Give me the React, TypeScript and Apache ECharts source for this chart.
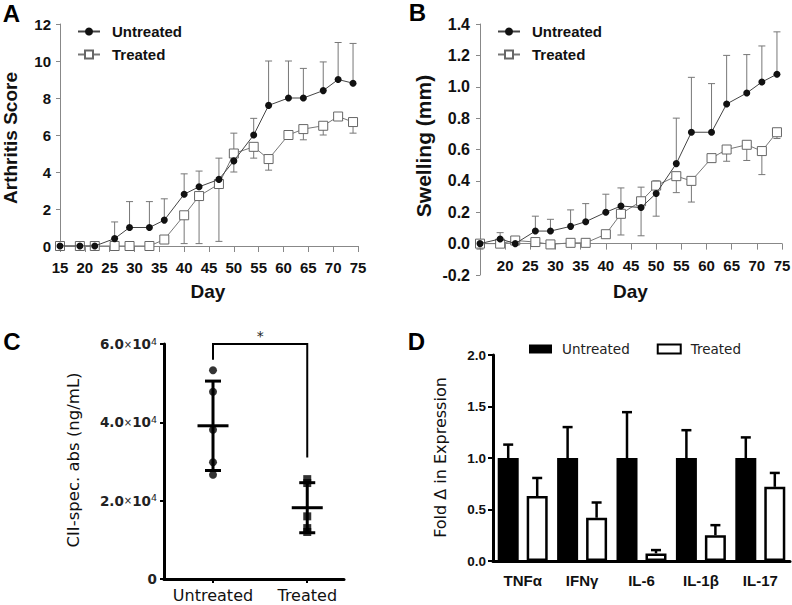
import React, { useEffect, useRef } from 'react';
import * as echarts from 'echarts';

// ---------- Panel A: arthritis score ----------
const days = [15, 19, 22, 26, 29, 33, 36, 40, 43, 47, 50, 54, 57, 61, 64, 68, 71, 74];
const scoreUntreated = [0, 0, 0, 0.4, 1.0, 1.0, 1.4, 2.8, 3.2, 3.6, 4.6, 6.0, 7.6, 8.0, 8.0, 8.4, 9.0, 8.8];
const scoreUntreatedUpper = [null, null, null, 1.3, 2.4, 2.4, 2.55, 3.9, 4.05, 4.75, 6.1, 6.9, 10.0, 10.0, 9.6, 9.95, 11.0, 10.95];
const scoreTreated = [0, 0, 0, 0, 0, 0, 0.35, 1.66, 2.7, 3.35, 5.0, 5.36, 4.7, 6.0, 6.32, 6.5, 7.0, 6.7];
const scoreTreatedLower = [null, null, null, null, null, null, null, 0.13, 0.13, 0.25, 4.0, 4.75, 4.1, null, 5.74, 6.0, null, 6.1];

// ---------- Panel B: swelling ----------
const swellUntreated = [0, 0.03, 0, 0.08, 0.08, 0.11, 0.14, 0.2, 0.24, 0.23, 0.32, 0.51, 0.71, 0.71, 0.89, 0.96, 1.03, 1.08];
const swellUntreatedUpper = [null, 0.07, null, 0.175, 0.155, 0.215, 0.255, 0.315, 0.355, 0.36, 0.4, 0.8, 1.06, 1.02, 1.2, 1.205, 1.26, 1.35];
const swellTreated = [0, 0, 0.02, 0.01, -0.005, 0.005, 0.005, 0.06, 0.19, 0.27, 0.37, 0.43, 0.4, 0.545, 0.6, 0.63, 0.59, 0.71];
const swellTreatedLower = [-0.035, null, null, null, -0.03, null, null, null, 0.055, 0.05, 0.175, 0.325, 0.265, 0.52, 0.525, 0.53, 0.44, 0.67];

// ---------- Panel C: CII-specific antibodies ----------
const groups = ['Untreated', 'Treated'];
const absUntreated = [53300, 47800, 38100, 29800, 26600];
const absTreated = [25500, 24500, 16000, 13000, 12000];
const bracketTop = 60000;
const bracketLeftEnd = 56000;
const bracketRightEnd = 31000;
const bracketMark = '*';

// ---------- Panel D: cytokine expression ----------
const cytokines = ['TNFα', 'IFNγ', 'IL-6', 'IL-1β', 'IL-17'];
const foldUntreated = [1, 1, 1, 1, 1];
const foldUntreatedUpper = [1.13, 1.3, 1.445, 1.27, 1.2];
const foldTreated = [0.63, 0.42, 0.074, 0.25, 0.72];
const foldTreatedUpper = [0.806, 0.568, 0.106, 0.348, 0.855];

const FONT_AB = '"Liberation Sans", Arial, sans-serif';
const FONT_CD = '"DejaVu Sans", sans-serif';

const mean = (a: number[]) => a.reduce((s, v) => s + v, 0) / a.length;
const sd = (a: number[]) => {
  const m = mean(a);
  return Math.sqrt(a.reduce((s, v) => s + (v - m) * (v - m), 0) / (a.length - 1));
};

const errData = (xs: number[], ys: number[], ends: (number | null)[]) =>
  xs.map((x, i) => (ends[i] == null ? null : [x, ys[i], ends[i]])).filter((d) => d !== null);

const errRender = (color: string, width: number, half: number, offset: number) => (params: any, api: any) => {
  const p0 = api.coord([api.value(0), api.value(1)]);
  const p1 = api.coord([api.value(0), api.value(2)]);
  const x = p0[0] + offset;
  return {
    type: 'group',
    children: [
      { type: 'line', shape: { x1: x, y1: p0[1], x2: x, y2: p1[1] }, style: { stroke: color, lineWidth: width } },
      { type: 'line', shape: { x1: x - half, y1: p1[1], x2: x + half, y2: p1[1] }, style: { stroke: color, lineWidth: width } },
    ],
  };
};

const labelAB = { color: '#111', fontSize: 15, fontWeight: 'bold' as const, fontFamily: FONT_AB };

function buildOption(): any {
  const grid = [
    { left: 60, top: 24, width: 298, height: 222 },
    { left: 480, top: 24, width: 302, height: 251 },
    { left: 164, top: 344, width: 180, height: 235 },
    { left: 493, top: 355, width: 297, height: 206 },
  ].map((g) => ({ ...g, containLabel: false, outerBoundsMode: 'none' }));

  const greyLine = { show: true, onZero: false, lineStyle: { color: '#888', width: 1 } };
  const blackLine = { show: true, onZero: false, lineStyle: { color: '#000', width: 3 } };

  const xAxis = [
    {
      gridIndex: 0, type: 'value', min: 15, max: 75, interval: 5,
      axisLine: greyLine,
      axisTick: { show: true, length: 6, lineStyle: { color: '#888' } },
      axisLabel: { ...labelAB, margin: 14 },
      splitLine: { show: false },
    },
    {
      // B: axis line and ticks sitting on y = 0
      gridIndex: 1, type: 'value', min: 15, max: 75, interval: 5,
      axisLine: { show: true, onZero: true, lineStyle: { color: '#888', width: 1 } },
      axisTick: { show: true, length: 6, lineStyle: { color: '#888' } },
      axisLabel: { show: false },
      splitLine: { show: false },
    },
    {
      gridIndex: 2, type: 'value', min: -0.52, max: 1.39,
      axisLine: blackLine,
      axisTick: { show: true, customValues: [0, 1], length: 4, lineStyle: { color: '#000', width: 2 } },
      axisLabel: {
        customValues: [0, 1], margin: 8, color: '#111', fontSize: 16, fontFamily: FONT_CD,
        formatter: (v: number) => groups[Math.round(v)] ?? '',
      },
      splitLine: { show: false },
    },
    {
      gridIndex: 3, type: 'category', data: cytokines,
      axisLine: blackLine,
      axisTick: { show: false },
      axisLabel: { color: '#111', fontSize: 15, fontWeight: 'bold', fontFamily: FONT_AB, margin: 12 },
    },
    {
      // B: tick labels, drawn just below the zero line
      gridIndex: 1, type: 'value', min: 15, max: 75, interval: 5, position: 'bottom', offset: -31.5,
      axisLine: { show: false, onZero: false },
      axisTick: { show: false },
      axisLabel: { ...labelAB, margin: 14, formatter: (v: number) => (v === 15 ? '' : String(v)) },
      splitLine: { show: false },
    },
  ];

  const yAxis = [
    {
      gridIndex: 0, type: 'value', min: 0, max: 12, interval: 2,
      axisLine: greyLine,
      axisTick: { show: true, length: 4, lineStyle: { color: '#888' } },
      axisLabel: { ...labelAB, margin: 9 },
      splitLine: { show: false },
    },
    {
      gridIndex: 1, type: 'value', min: -0.2, max: 1.4, interval: 0.2,
      axisLine: greyLine,
      axisTick: { show: true, length: 4, lineStyle: { color: '#888' } },
      axisLabel: { ...labelAB, fontSize: 16, margin: 10, formatter: (v: number) => v.toFixed(1) },
      splitLine: { show: false },
    },
    {
      gridIndex: 2, type: 'value', min: 0, max: 60000, interval: 20000,
      axisLine: blackLine,
      axisTick: { show: true, length: 4, lineStyle: { color: '#000', width: 2 } },
      axisLabel: {
        margin: 7,
        formatter: (v: number) => (v === 0 ? '{a|0}' : `{a|${(v / 10000).toFixed(1)}}{x|×}{a|10}{s|4}`),
        rich: {
          a: { fontSize: 13.5, fontWeight: 'bold', fontFamily: FONT_CD, color: '#222', lineHeight: 16 },
          x: { fontSize: 10, fontFamily: FONT_CD, color: '#222', lineHeight: 16 },
          s: { fontSize: 9.5, fontFamily: FONT_CD, color: '#222', lineHeight: 10, verticalAlign: 'top' },
        },
      },
      splitLine: { show: false },
    },
    {
      gridIndex: 3, type: 'value', min: 0, max: 2, interval: 0.5,
      axisLine: blackLine,
      axisTick: { show: true, length: 5, lineStyle: { color: '#000', width: 2 } },
      axisLabel: { color: '#111', fontSize: 13.5, fontWeight: 'bold', fontFamily: FONT_AB, margin: 7, formatter: (v: number) => v.toFixed(1) },
      splitLine: { show: false },
    },
  ];

  const errDims = ['x', 'y', 'e'];
  const lineSeries = (name: string, axis: number, ys: number[], treated: boolean) => ({
    name, type: 'line', xAxisIndex: axis, yAxisIndex: axis,
    data: days.map((d, i) => [d, ys[i]]),
    symbol: treated ? 'rect' : 'circle',
    symbolSize: treated ? 9 : 7,
    itemStyle: treated ? { color: '#fff', borderColor: '#666', borderWidth: 1 } : { color: '#111' },
    lineStyle: { color: treated ? '#777' : '#444', width: 1 },
    z: treated ? 3 : 4,
  });
  const errSeries = (axis: number, ys: number[], ends: (number | null)[]) => ({
    type: 'custom', xAxisIndex: axis, yAxisIndex: axis, z: 2,
    dimensions: errDims, encode: { x: 0, y: [1, 2] },
    data: errData(days, ys, ends),
    renderItem: errRender('#777', 1, 3.5, 0),
  });

  const cStats = [absUntreated, absTreated].map((arr, i) => [i, mean(arr), sd(arr)]);

  const series: any[] = [
    errSeries(0, scoreUntreated, scoreUntreatedUpper),
    errSeries(0, scoreTreated, scoreTreatedLower),
    lineSeries('A|Treated', 0, scoreTreated, true),
    lineSeries('A|Untreated', 0, scoreUntreated, false),
    errSeries(1, swellUntreated, swellUntreatedUpper),
    errSeries(1, swellTreated, swellTreatedLower),
    lineSeries('B|Treated', 1, swellTreated, true),
    lineSeries('B|Untreated', 1, swellUntreated, false),
    {
      type: 'scatter', xAxisIndex: 2, yAxisIndex: 2, symbol: 'circle', symbolSize: 8,
      itemStyle: { color: '#000' }, data: absUntreated.map((v) => [0, v]), z: 3,
    },
    {
      type: 'scatter', xAxisIndex: 2, yAxisIndex: 2, symbol: 'rect', symbolSize: 8,
      itemStyle: { color: '#000' }, data: absTreated.map((v) => [1, v]), z: 3,
    },
    {
      type: 'custom', xAxisIndex: 2, yAxisIndex: 2, z: 4,
      dimensions: ['g', 'm', 's'], encode: { x: 0, y: 1 },
      data: cStats,
      renderItem: (params: any, api: any) => {
        const g = api.value(0), m = api.value(1), s = api.value(2);
        const pm = api.coord([g, m]);
        const pt = api.coord([g, m + s]);
        const pb = api.coord([g, m - s]);
        const st = { stroke: '#000', lineWidth: 3 };
        return {
          type: 'group',
          children: [
            { type: 'line', shape: { x1: pm[0], y1: pt[1], x2: pm[0], y2: pb[1] }, style: st },
            { type: 'line', shape: { x1: pm[0] - 8, y1: pt[1], x2: pm[0] + 8, y2: pt[1] }, style: st },
            { type: 'line', shape: { x1: pm[0] - 8, y1: pb[1], x2: pm[0] + 8, y2: pb[1] }, style: st },
            { type: 'line', shape: { x1: pm[0] - 15.5, y1: pm[1], x2: pm[0] + 15.5, y2: pm[1] }, style: st },
          ],
        };
      },
    },
    {
      type: 'custom', xAxisIndex: 2, yAxisIndex: 2, z: 4,
      dimensions: ['g0', 'g1', 'top', 'l', 'r'], encode: { x: [0, 1], y: [2, 3, 4] },
      data: [[0, 1, bracketTop, bracketLeftEnd, bracketRightEnd]],
      renderItem: (params: any, api: any) => {
        const lt = api.coord([api.value(0), api.value(2)]);
        const lb = api.coord([api.value(0), api.value(3)]);
        const rt = api.coord([api.value(1), api.value(2)]);
        const rb = api.coord([api.value(1), api.value(4)]);
        return {
          type: 'group',
          children: [
            {
              type: 'polyline',
              shape: { points: [[lb[0], lb[1]], [lt[0], lt[1]], [rt[0], rt[1]], [rb[0], rb[1]]] },
              style: { stroke: '#000', lineWidth: 2, fill: 'none' },
            },
            {
              type: 'text',
              x: (lt[0] + rt[0]) / 2, y: lt[1] - 8,
              style: { text: bracketMark, fontSize: 14, fontFamily: FONT_CD, fill: '#222', align: 'center', verticalAlign: 'middle' },
            },
          ],
        };
      },
    },
    {
      name: 'D|Untreated', type: 'bar', xAxisIndex: 3, yAxisIndex: 3, data: foldUntreated,
      barWidth: 21, barGap: '38%', itemStyle: { color: '#000' }, z: 2,
    },
    {
      name: 'D|Treated', type: 'bar', xAxisIndex: 3, yAxisIndex: 3, data: foldTreated,
      barWidth: 21, barGap: '38%', itemStyle: { color: '#fff', borderColor: '#000', borderWidth: 2.5 }, z: 2,
    },
    {
      type: 'custom', xAxisIndex: 3, yAxisIndex: 3, z: 3,
      dimensions: errDims, encode: { x: 0, y: [1, 2] },
      data: cytokines.map((_, i) => [i, foldUntreated[i], foldUntreatedUpper[i]]),
      renderItem: errRender('#000', 2.5, 5, -14.5),
    },
    {
      type: 'custom', xAxisIndex: 3, yAxisIndex: 3, z: 3,
      dimensions: errDims, encode: { x: 0, y: [1, 2] },
      data: cytokines.map((_, i) => [i, foldTreated[i], foldTreatedUpper[i]]),
      renderItem: errRender('#000', 2.5, 5, 14.5),
    },
  ];

  const nameOnly = (n: string) => n.split('|')[1];
  const legendAB = (prefix: string, left: number) => ({
    left, top: 24, orient: 'vertical', itemWidth: 22, itemHeight: 10, itemGap: 8, padding: 0,
    selectedMode: false,
    data: [`${prefix}|Untreated`, `${prefix}|Treated`],
    formatter: nameOnly,
    textStyle: { ...labelAB, padding: [0, 0, 0, 7] },
  });

  const legend = [
    legendAB('A', 77),
    legendAB('B', 497),
    {
      left: 529, top: 342, orient: 'horizontal', itemWidth: 23, itemHeight: 9, itemGap: 27, padding: 0,
      selectedMode: false,
      data: [
        { name: 'D|Untreated', icon: 'rect', itemStyle: { color: '#000', borderWidth: 0 } },
        { name: 'D|Treated', icon: 'rect', itemStyle: { color: '#fff', borderColor: '#000', borderWidth: 2 } },
      ],
      formatter: nameOnly,
      textStyle: { color: '#222', fontSize: 13.5, fontFamily: FONT_CD, padding: [0, 0, 0, 5] },
    },
  ];

  const txt = (text: string, x: number, y: number, font: any, rotate = false) => ({
    type: 'text', x, y, rotation: rotate ? Math.PI / 2 : 0,
    style: { text, align: 'center', verticalAlign: 'middle', fill: '#111', ...font },
  });
  const boldAB = (size: number) => ({ fontSize: size, fontWeight: 'bold', fontFamily: FONT_AB });
  const plainCD = (size: number) => ({ fontSize: size, fontFamily: FONT_CD });

  const graphic = [
    txt('A', 11.5, 13.5, { ...boldAB(24), fill: '#000' }),
    txt('B', 417.5, 12.5, { ...boldAB(24), fill: '#000' }),
    txt('C', 12, 341, { ...boldAB(24), fill: '#000' }),
    txt('D', 416.5, 341, { ...boldAB(24), fill: '#000' }),
    txt('Arthritis Score', 10, 138, boldAB(19), true),
    txt('Day', 208, 291, boldAB(19)),
    txt('Swelling (mm)', 423, 146, boldAB(21), true),
    txt('Day', 630.5, 291, boldAB(19)),
    txt('CII-spec. abs (ng/mL)', 73, 460, plainCD(16.5), true),
    txt('Fold Δ in Expression', 440, 457.5, plainCD(16), true),
  ];

  return {
    animation: false,
    backgroundColor: '#fff',
    grid, xAxis, yAxis, series, legend, graphic,
  };
}

export default function App() {
  const ref = useRef<HTMLDivElement>(null);
  useEffect(() => {
    if (!ref.current) return;
    const chart = echarts.init(ref.current, null, { renderer: 'svg' });
    chart.setOption(buildOption());
    return () => chart.dispose();
  }, []);
  return (
    <div
      ref={ref}
      style={{ position: 'fixed', left: 0, top: 0, width: 792, height: 605, background: '#fff' }}
    />
  );
}
